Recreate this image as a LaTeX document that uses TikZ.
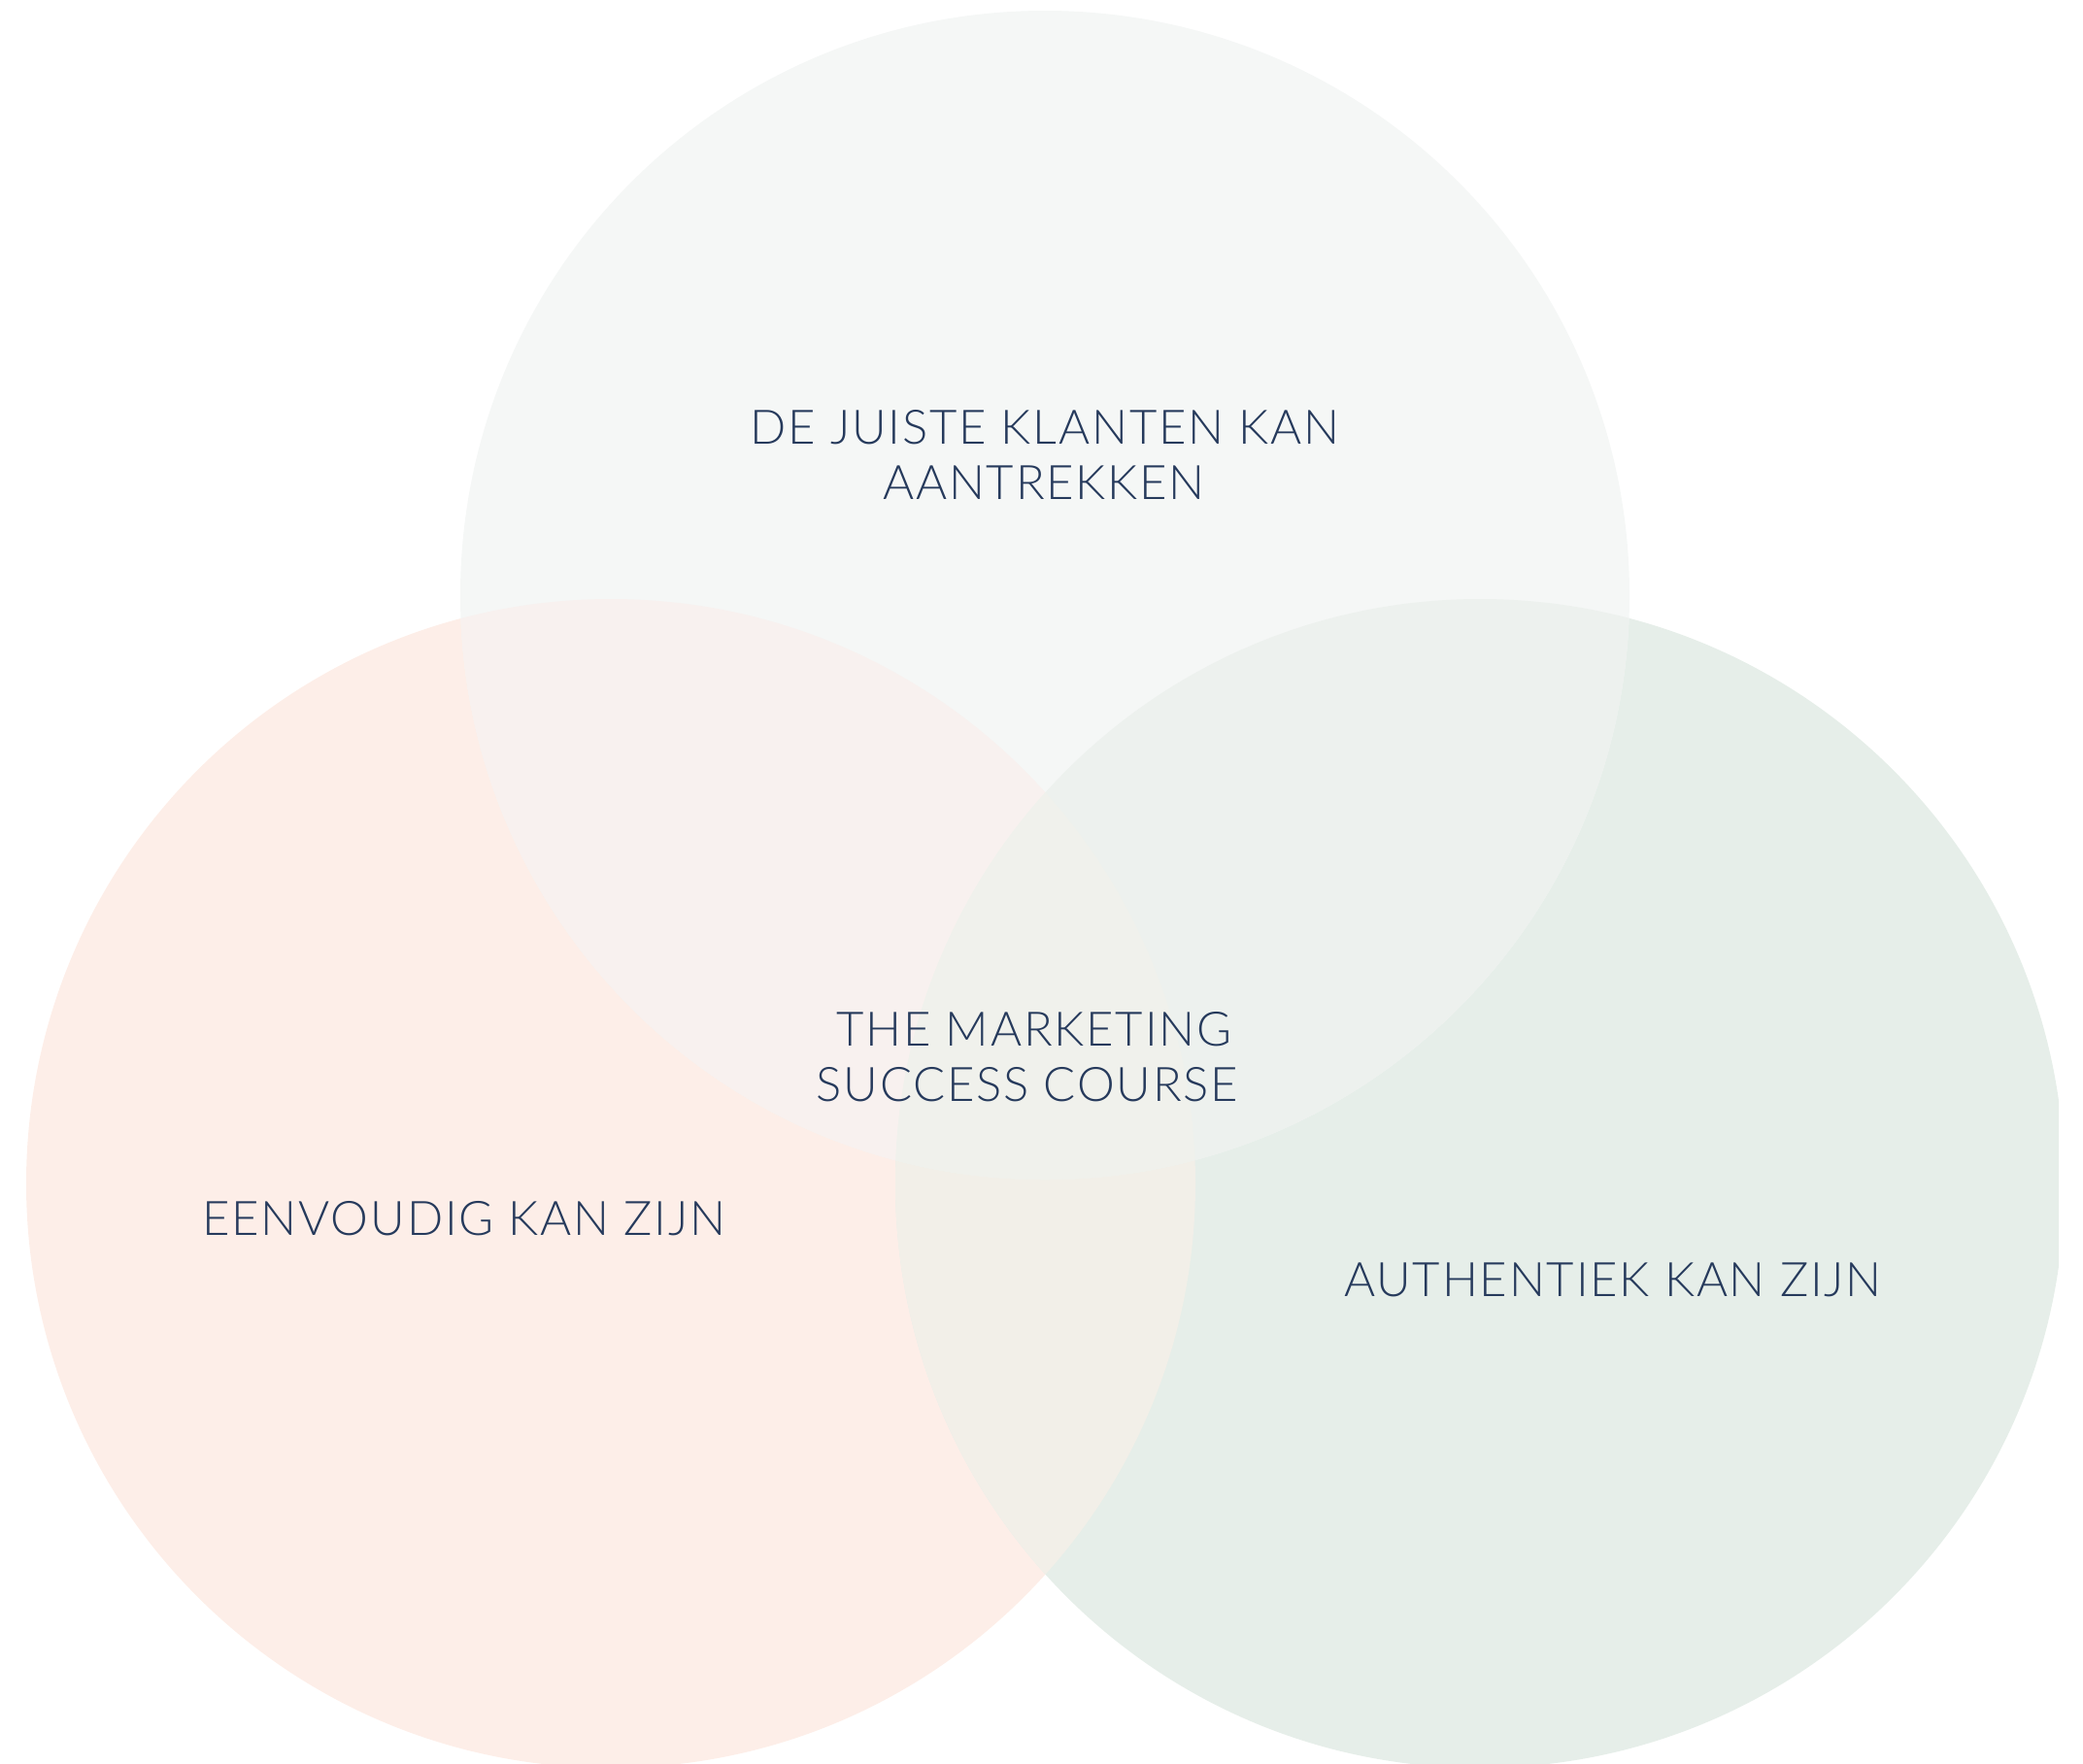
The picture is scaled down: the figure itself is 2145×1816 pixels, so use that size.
\documentclass[tikz,border=0pt]{standalone}
\usepackage{fontspec}
\newfontfamily\labfont{Lato Light}[LetterSpace=3.7]
\definecolor{peach}{HTML}{FDEEE8}
\definecolor{sage}{HTML}{E6EEE9}
\definecolor{mist}{HTML}{F5F7F6}
\definecolor{lr}{HTML}{F2EFE8}
\definecolor{tl}{HTML}{F8F1EF}
\definecolor{tr}{HTML}{EDF1EE}
\definecolor{tlr}{HTML}{F0F1EC}
\definecolor{navy}{HTML}{263A5C}
\tikzset{
  lab/.style={anchor=base, inner sep=0pt, text=navy, font=\labfont\fontsize{49}{58}\selectfont}
}
\begin{document}
\begin{tikzpicture}[x=1pt,y=-1pt]
\useasboundingbox (0,0) rectangle (2145,1816);
\coordinate (T) at (1076,613);
\coordinate (L) at (629,1219);
\coordinate (R) at (1524,1219);
\begin{scope}
\clip (0,0) rectangle (2120,1816);
\fill[peach] (L) circle[radius=602pt];
\fill[sage] (R) circle[radius=602pt];
\begin{scope}
\clip (L) circle[radius=602pt];
\fill[lr] (R) circle[radius=602pt];
\end{scope}
\fill[mist] (T) circle[radius=602pt];
\begin{scope}
\clip (T) circle[radius=602pt];
\fill[tl] (L) circle[radius=602pt];
\fill[tr] (R) circle[radius=602pt];
\clip (L) circle[radius=602pt];
\fill[tlr] (R) circle[radius=602pt];
\end{scope}
\end{scope}
\node[lab] (t1) at (1076,457) {DE JUISTE KLANTEN KAN};
\node[lab] (t2) at (1075,514) {AANTREKKEN};
\node[lab] (c1) at (1065,1077) {THE MARKETING};
\node[lab] (c2) at (1058,1134) {SUCCESS COURSE};
\node[lab] (l1) at (478,1272) {EENVOUDIG KAN ZIJN};
\node[lab] (r1) at (1661,1335) {AUTHENTIEK KAN ZIJN};
\end{tikzpicture}
\end{document}
